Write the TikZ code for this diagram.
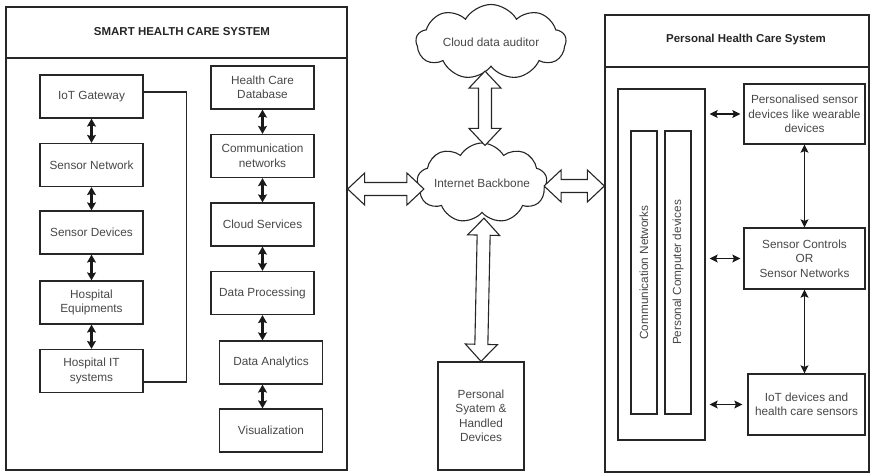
\documentclass[tikz,border=0pt]{standalone}
\usepackage{fontspec}
\setmainfont{Liberation Sans}
\usetikzlibrary{arrows.meta,shapes.symbols,calc}
\begin{document}
\begin{tikzpicture}[x=1pt,y=-1pt,
		font=\fontsize{11.8}{14.5}\selectfont,
		panel/.style={draw=black!85,line width=1.3pt,inner sep=0pt},
		ttl/.style={font=\fontsize{11.5}{14}\selectfont\bfseries,text=black!85},
		box/.style={draw=black!85,line width=1.3pt,text=black!72,align=center,inner sep=1pt},
		lbox/.style={box,minimum width=103,minimum height=43},
		cld/.style={cloud,cloud puffs=9,cloud puff arc=120,cloud ignores aspect,draw=black!85,line width=1.1pt,text=black!72,inner sep=0pt},
		dbl/.style={draw=black!90,line width=2.2pt,{Stealth[length=8pt,width=9pt,inset=1.5pt]}-{Stealth[length=8pt,width=9pt,inset=1.5pt]}},
		thn/.style={draw=black!90,line width=1.2pt,{Stealth[length=8pt,width=8pt,inset=1.5pt]}-{Stealth[length=8pt,width=8pt,inset=1.5pt]}},
		hollow/.style={draw=black!85,line width=1.1pt,fill=white,line join=miter,
			to path={let \p1=(\tikztostart),\p2=(\tikztotarget),
				\n1={veclen(\x2-\x1,\y2-\y1)},\n2={atan2(\y2-\y1,\x2-\x1)} in
				{[shift={(\p1)},rotate=\n2] (0pt,0pt) -- (17pt,16pt) -- (17pt,6.5pt) -- (\n1-17pt,6.5pt)
				-- (\n1-17pt,16pt) -- (\n1,0pt) -- (\n1-17pt,-16pt) -- (\n1-17pt,-6.5pt)
				-- (17pt,-6.5pt) -- (17pt,-16pt) -- cycle}}}]
	\useasboundingbox (0,0) rectangle (870,473);
	% smart health care system
	\node[panel,minimum width=341,minimum height=463] (lp) at (176.5,238.5) {};
	\draw[panel] (lp.west |- 0,58) -- (lp.east |- 0,58);
	\node[ttl] at (182,32) {SMART HEALTH CARE SYSTEM};
	\node[lbox] (gate) at (91.5,96.5) {IoT Gateway};
	\node[lbox] (snet) at (91.5,165) {Sensor Network};
	\node[lbox] (sdev) at (91.5,232.5) {Sensor Devices};
	\node[lbox] (hequ) at (91.5,302.5) {Hospital\\Equipments};
	\node[lbox] (hit) at (91.5,371) {Hospital IT\\systems};
	\node[lbox] (hdb) at (262.5,87.5) {Health Care\\Database};
	\node[lbox] (comm) at (262.5,156) {Communication\\networks};
	\node[lbox] (csrv) at (262.5,224.5) {Cloud Services};
	\node[lbox] (dproc) at (262.5,293) {Data Processing};
	\node[lbox] (anal) at (271,362.5) {Data Analytics};
	\node[lbox] (vis) at (271,430.5) {Visualization};
	\draw[dbl] (gate) -- (snet);
	\draw[dbl] (snet) -- (sdev);
	\draw[dbl] (sdev) -- (hequ);
	\draw[dbl] (hequ) -- (hit);
	\draw[dbl] (hdb) -- (comm);
	\draw[dbl] (comm) -- (csrv);
	\draw[dbl] (csrv) -- (dproc);
	\draw[dbl] (dproc.south) -- (dproc.south |- anal.north);
	\draw[dbl] (anal.south -| dproc.south) -- (vis.north -| dproc.south);
	\draw[panel] ([yshift=4.5pt]gate.east) -- ++(43,0) |- ([yshift=-11pt]hit.east);
	% middle
	\node[cld,minimum width=150,minimum height=75] (aud) at (491,42) {Cloud data auditor};
	\node[cld,minimum width=130,minimum height=80] (bb) at (482,183) {Internet Backbone};
	\node[box,minimum width=86,minimum height=108] (psd) at (481,416) {Personal\\Syatem \&\\Handled\\Devices};
	% personal health care system
	\node[panel,minimum width=264,minimum height=457] (rp) at (737,243.5) {};
	\draw[panel] (rp.west |- 0,67) -- (rp.east |- 0,67);
	\node[ttl] at (746,40) {Personal Health Care System};
	\node[box,minimum width=87,minimum height=351] (big) at (661.5,264.5) {};
	\node[box,rotate=90,minimum width=283,minimum height=26] (cn) at (644,272.5) {Communication Networks};
	\node[box,rotate=90,minimum width=283,minimum height=26] (pc) at (678,272.5) {Personal Computer devices};
	\node[box,minimum width=121,minimum height=60] (pers) at (804.5,114) {Personalised sensor\\devices like wearable\\devices};
	\node[box,minimum width=121,minimum height=61] (sctl) at (804.5,258.5) {Sensor Controls\\OR\\Sensor Networks};
	\node[box,minimum width=117,minimum height=61] (iotd) at (806.5,404.5) {IoT devices and\\health care sensors};
	\draw[thn] (pers) -- (sctl);
	\draw[thn] (sctl.south) -- (sctl.south |- iotd.north);
	\draw[thn,shorten <=4pt,shorten >=3pt] (big.east |- pers) -- (pers.west);
	\draw[thn,shorten <=4pt,shorten >=3pt] (big.east |- sctl) -- (sctl.west);
	\draw[thn,shorten <=4pt,shorten >=5pt] (big.east |- iotd) -- (iotd.west);
	% hollow arrows
	\coordinate (audb) at ($(bb.north |- aud.south)+(3,4)$);
	\coordinate (bbt) at ($(bb.north)+(3,3)$);
	\coordinate (bbl) at ($(bb.west)+(7,6)$);
	\coordinate (bbr) at ($(bb.east)+(-3,3)$);
	\coordinate (bbs) at ($(bb.south)+(2,5)$);
	\draw[hollow] (bbt) to (audb);
	\draw[hollow] (bbl -| lp.east) to (bbl);
	\draw[hollow] (bbr) to (bbr -| rp.west);
	\draw[hollow] (bbs) to (psd.north);
\end{tikzpicture}
\end{document}
